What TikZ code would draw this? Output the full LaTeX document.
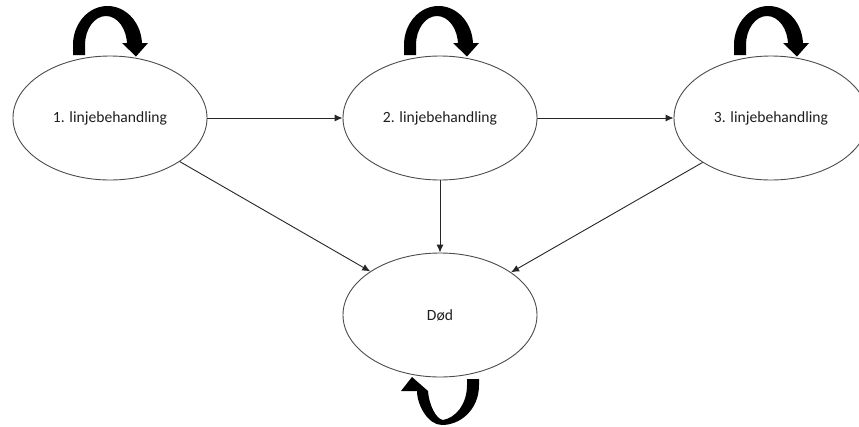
\documentclass[tikz,border=0pt]{standalone}
\usepackage{fontspec}
\setmainfont{Carlito}
\usetikzlibrary{shapes.geometric,arrows.meta}
\tikzset{
  state/.style={ellipse, draw=black!70, line width=0.9pt, fill=white,
    minimum width=194pt, minimum height=124pt, inner sep=0pt,
    font=\fontsize{15.6}{18}\selectfont, text=black!88},
  conn/.style={draw=black!85, line width=0.9pt, -{Latex[length=8pt,width=7pt]}},
  loopbody/.style={fill=black, draw=none}
}
\begin{document}
\begin{tikzpicture}[x=1pt,y=-1pt]
\useasboundingbox (0,0) rectangle (859,426);
\clip (0,0) rectangle (859,426);
\fill[white] (0,0) rectangle (859,426);

\node[state] (n1) at (110,118) {1. linjebehandling};
\node[state] (n2) at (440,118) {2. linjebehandling};
\node[state] (n3) at (771,118) {3. linjebehandling};
\node[state] (dod) at (440,315) {Død};

\draw[conn] (n1) -- (n2);
\draw[conn] (n2) -- (n3);
\draw[conn] (n1.-32) -- (dod.148);
\draw[conn] (n2) -- (dod);
\draw[conn] (n3.-147.5) -- (dod.31);

% self-loop arrows on top
\foreach \dx in {0,331,661}{
  \begin{scope}[xshift=\dx]
    \fill[loopbody] (73,55) -- (73,45)
      arc[start angle=180, end angle=360, x radius=34.5, y radius=39]
      -- (142,43) -- (148,43) -- (136,56.5) -- (122,43) -- (127,43) -- (127,45)
      arc[start angle=360, end angle=180, x radius=21, y radius=29]
      -- (85,55) -- cycle;
  \end{scope}
}

% self-loop below Død
\fill[loopbody] (479,379) -- (479,385)
  .. controls (479,410) and (460,425) .. (442,425)
  .. controls (428,425) and (417,405) .. (417,391)
  -- (401,391) -- (412,377) -- (428,391)
  .. controls (429,405) and (436,419) .. (443,420)
  .. controls (455,418) and (467,405) .. (467,385)
  -- (467,379) -- cycle;
\end{tikzpicture}
\end{document}
